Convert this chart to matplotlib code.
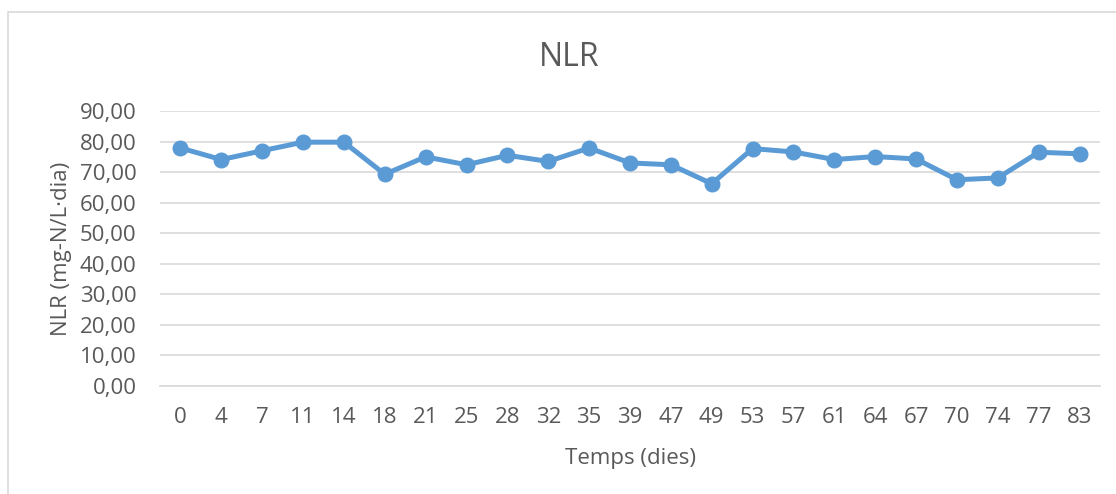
import matplotlib
matplotlib.use("Agg")
import matplotlib.pyplot as plt
from matplotlib.patches import Rectangle

days = ["0", "4", "7", "11", "14", "18", "21", "25", "28", "32", "35", "39",
        "47", "49", "53", "57", "61", "64", "67", "70", "74", "77", "83"]
nlr = [77.9, 74.1, 77.0, 79.8, 79.8, 69.3, 75.0, 72.4, 75.5, 73.5, 77.9, 73.0,
       72.4, 66.2, 77.7, 76.6, 74.1, 75.1, 74.3, 67.5, 68.1, 76.5, 76.0]
yticks = [0, 10, 20, 30, 40, 50, 60, 70, 80, 90]
ytick_labels = ["0,00", "10,00", "20,00", "30,00", "40,00", "50,00", "60,00",
                "70,00", "80,00", "90,00"]

plt.rcParams['font.family'] = ['Open Sans', 'DejaVu Sans']
txt = '#595959'

fig = plt.figure(figsize=(11.16, 4.94), dpi=100)
W, H = 1116, 494
ax = fig.add_axes([160 / W, 1 - 386 / H, 940 / W, 275 / H])

x = list(range(len(days)))
ax.plot(x, nlr, color='#5B9BD5', lw=3.6, marker='o', markersize=10.5,
        solid_joinstyle='round', zorder=3)

ax.set_xlim(-0.5, len(days) - 0.5)
ax.set_ylim(0, 90)
ax.set_yticks(yticks)
ax.set_yticklabels(ytick_labels)
ax.set_xticks(x)
ax.set_xticklabels(days)
ax.grid(axis='y', color='#D9D9D9', lw=1.2)
ax.set_axisbelow(True)
for s in ['top', 'right', 'left']:
    ax.spines[s].set_visible(False)
ax.spines['bottom'].set_color('#D9D9D9')
ax.spines['bottom'].set_linewidth(1.2)
ax.tick_params(axis='both', length=0, labelsize=16, colors=txt)
ax.tick_params(axis='y', pad=17)
ax.tick_params(axis='x', pad=15)

fig.text(61 / W, 1 - 249 / H, "NLR (mg-N/L·dia)", rotation=90, ha='center',
         va='center', fontsize=16, color=txt)
fig.text(630 / W, 1 - 458 / H, "Temps (dies)", ha='center', va='center',
         fontsize=16, color=txt)
fig.text(569 / W, 1 - 57 / H, "NLR", ha='center', va='center',
         fontsize=23, color=txt)

fig.patches.append(Rectangle((8 / W, -0.05), 1.2, 1 - 12 / H + 0.05,
                             transform=fig.transFigure, fill=False,
                             edgecolor='#D9D9D9', lw=1.2))

fig.savefig("out.png", dpi=100)
